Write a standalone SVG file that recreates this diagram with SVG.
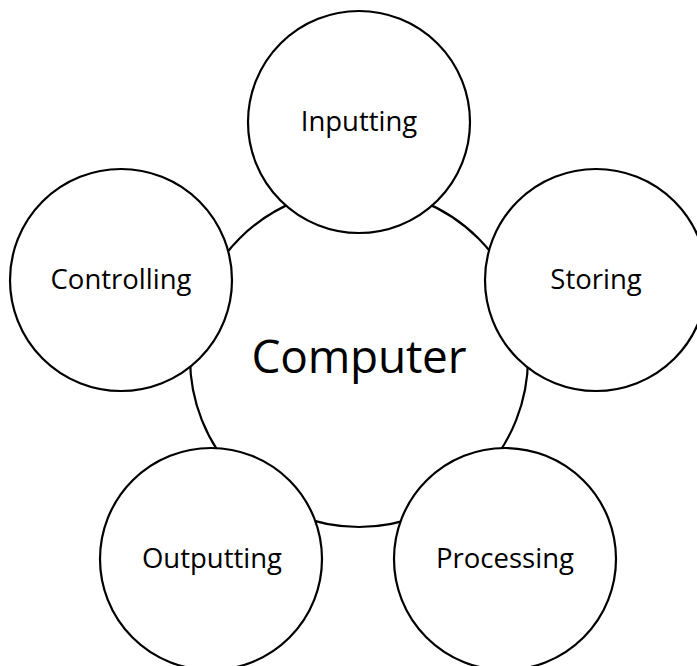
<svg xmlns="http://www.w3.org/2000/svg" width="697" height="666" viewBox="0 0 697 666">
<style>
circle{fill:#fff;stroke:#000;stroke-width:2.2}
text{font-family:"Open Sans","Liberation Sans",sans-serif;fill:#000;text-anchor:middle}
.s{font-size:27.5px}
.c{font-size:46px}
</style>
<rect width="697" height="666" fill="#fff"/>
<g id="computer"><circle cx="359" cy="358" r="169"/><text class="c" x="359" y="373" textLength="215">Computer</text></g>
<g id="connectors"/>
<g id="inputting"><circle cx="359" cy="122" r="111"/><text class="s" x="359" y="131">Inputting</text></g>
<g id="storing"><circle cx="596" cy="280" r="111"/><text class="s" x="596" y="289">Storing</text></g>
<g id="controlling"><circle cx="121" cy="280" r="111"/><text class="s" x="121" y="289">Controlling</text></g>
<g id="outputting"><circle cx="211" cy="559" r="111"/><text class="s" x="212" y="568">Outputting</text></g>
<g id="processing"><circle cx="505" cy="559" r="111"/><text class="s" x="505" y="568">Processing</text></g>
</svg>
